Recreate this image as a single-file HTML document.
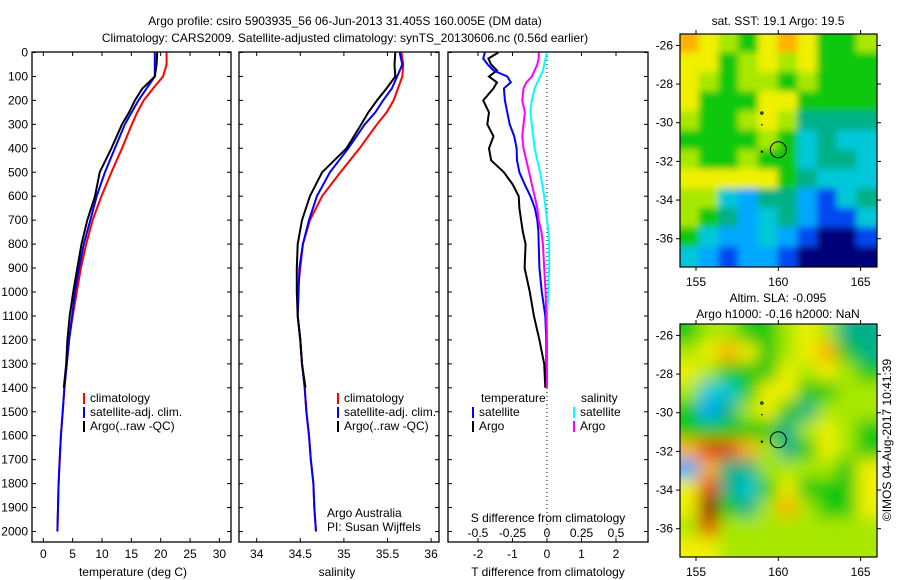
<!DOCTYPE html>
<html><head><meta charset="utf-8"><style>
body{margin:0;background:#fff;}
svg{display:block;font-family:"Liberation Sans",sans-serif;}
text{font-size:12px;fill:#000;}
</style></head><body>
<svg id="fig" width="900" height="580" viewBox="0 0 900 580">
<defs>
<clipPath id="c1"><rect x="680" y="34" width="197" height="233"/></clipPath>
<clipPath id="c2"><rect x="680" y="324" width="197" height="233"/></clipPath>
<filter id="b1" x="-20%" y="-20%" width="140%" height="140%"><feGaussianBlur stdDeviation="3.5"/></filter>
<filter id="b2" x="-20%" y="-20%" width="140%" height="140%"><feGaussianBlur stdDeviation="8"/></filter>
</defs>
<text x="345" y="25" text-anchor="middle">Argo profile: csiro 5903935_56 06-Jun-2013 31.405S 160.005E (DM data)</text>
<text x="345" y="42" text-anchor="middle">Climatology: CARS2009. Satellite-adjusted climatology: synTS_20130606.nc (0.56d earlier)</text>
<g id="g"></g>
</svg>
<script>
// ---- data ----
const depths=[0,50,100,150,200,250,300,400,500,600,700,800,900,1000,1100,1200,1300,1400,1500,1600,1700,1800,1900,2000];
const tempClim=[21.0,21.0,20.4,18.7,17.1,16.0,15.1,13.4,11.6,9.9,8.4,7.3,6.4,5.7,5.0,4.4,4.0,3.6,3.3,3.0,2.8,2.6,2.5,2.4];
const tempSat=[19.0,19.0,19.0,17.6,16.2,15.05,13.9,12.2,10.5,9.1,8.0,6.9,6.1,5.4,4.9,4.4,4.0,3.6,3.3,3.0,2.8,2.6,2.5,2.4];
const argoDepths=[0,50,100,150,200,250,300,400,500,600,700,800,900,1000,1100,1200,1300,1400];
const tempArgo=[19.4,19.3,19.0,16.9,15.6,14.6,13.4,11.6,9.6,8.8,7.5,6.5,5.8,5.1,4.5,4.1,3.9,3.5];
const salClim=[35.66,35.68,35.67,35.62,35.57,35.49,35.38,35.18,34.96,34.75,34.61,34.53,34.50,34.47,34.47,34.50,34.52,34.55,34.57,34.60,34.62,34.65,34.66,34.68];
const salSat=[35.64,35.67,35.61,35.55,35.45,35.36,35.24,35.05,34.84,34.69,34.60,34.53,34.49,34.48,34.47,34.50,34.52,34.55,34.57,34.60,34.62,34.65,34.66,34.68];
const salArgo=[35.59,35.58,35.59,35.49,35.38,35.28,35.20,35.03,34.75,34.61,34.52,34.47,34.46,34.46,34.47,34.50,34.52,34.56];
const diffDepths=[0,25,50,75,100,125,150,200,250,300,350,400,450,500,550,600,650,700,750,800,900,1000,1100,1200,1300,1400];
const tDiffSat=[-1.80,-1.85,-1.72,-1.55,-1.15,-1.05,-1.25,-1.22,-1.15,-1.08,-0.95,-0.88,-0.87,-0.80,-0.65,-0.48,-0.35,-0.28,-0.25,-0.24,-0.22,-0.15,-0.05,-0.02,-0.02,-0.03];
const tDiffArgo=[-1.41,-1.70,-1.62,-1.45,-1.68,-1.45,-1.55,-1.85,-1.68,-1.73,-1.55,-1.68,-1.62,-1.25,-1.0,-0.82,-0.80,-0.75,-0.70,-0.62,-0.65,-0.50,-0.38,-0.22,-0.08,-0.05];
const sDiffSat=[0.0,-0.01,-0.02,-0.03,-0.05,-0.07,-0.09,-0.11,-0.12,-0.11,-0.10,-0.09,-0.07,-0.05,-0.035,-0.02,-0.01,0.0,0.01,0.015,0.015,0.01,0.0,0.0,0.0,0.0];
const sDiffArgo=[-0.06,-0.06,-0.07,-0.09,-0.11,-0.15,-0.17,-0.18,-0.16,-0.17,-0.18,-0.17,-0.15,-0.13,-0.11,-0.09,-0.07,-0.06,-0.04,-0.03,-0.02,-0.01,-0.005,0,0,0];
const depthTicks=[0,100,200,300,400,500,600,700,800,900,1000,1100,1200,1300,1400,1500,1600,1700,1800,1900,2000];
const tempTicks=[0,5,10,15,20,25,30];
const salTicks=[34,34.5,35,35.5,36];
const tDiffTicks=[-2,-1,0,1,2];
const sDiffTicks=["-0.5","-0.25","0","0.25","0.5"];
const sstGrid=[
[8,7,6,5,7,8,7,5,5,6],[7,7,5,6,7,6,7,5,5,5],[7,6,5,6,6,5,6,5,5,5],[7,5,5,5,7,7,5,5,5,5],
[6,5,5,6,7,6,4,4,4,4],[5,5,5,5,6,5,3,4,3,3],[6,5,5,6,5,5,3,4,4,3],[7,7,7,7,7,5,4,3,3,3],
[6,6,3,2,4,4,2,1,3,4],[6,5,4,2,3,4,2,1,1,3],[5,3,2,2,3,2,1,0,0,1],[3,2,1,2,2,1,0,0,0,0]];
const slaGrid=[
[5,6,6,5,5,6,7,6,4,4],[6,7,8,7,5,6,7,8,5,4],[7,6,5,5,5,7,6,7,6,5],[6,3,3,5,7,7,5,5,6,6],
[5,2,4,6,7,5,4,6,6,6],[5,5,5,5,5,4,6,7,6,5],[8,9,9,8,6,4,5,7,6,5],[2,8,4,4,6,6,6,6,5,7],
[7,9,4,3,5,7,5,5,5,7],[7,10,5,4,6,8,6,5,5,7],[6,9,6,6,6,6,6,6,6,6],[7,7,6,6,6,6,6,6,6,6]];
const palette=["#00007a","#0048f0","#00a8ff","#00c8d8","#00b088","#10c810","#a8e800","#f0f000","#ffb000","#e04000","#800000"];
const lonTicks=[155,160,165];
const latTicks=[-26,-28,-30,-32,-34,-36];

// ---- drawing ----
const NS="http://www.w3.org/2000/svg";
const G=document.getElementById('g');
function mk(tag,attrs,parent){const e=document.createElementNS(NS,tag);for(const k in attrs)e.setAttribute(k,attrs[k]);(parent||G).appendChild(e);return e;}
const FT=52, FB=542;
const yD=d=>52.5+d*0.2395;
const xT=v=>43.3+v*5.87;
const xS=v=>256.7+(v-34)*87.2;
const xTd=v=>547+v*34.5;
const xSd=v=>547+v*138;

function frame(x0,x1,name){
  const r=mk('rect',{x:x0,y:FT,width:x1-x0,height:FB-FT,fill:'none',stroke:'#000','stroke-width':1.3});
  
  
  depthTicks.forEach(d=>{const y=yD(d);
    mk('line',{x1:x0,x2:x0+4,y1:y,y2:y,stroke:'#000'});
    mk('line',{x1:x1-4,x2:x1,y1:y,y2:y,stroke:'#000'});});
}
function line(xs,ds,sx,col,name){
  const pts=xs.map((v,i)=>sx(v).toFixed(1)+','+yD(ds[i]).toFixed(1)).join(' ');
  const p=mk('polyline',{points:pts,fill:'none',stroke:col,'stroke-width':2});
  
  
}
function txt(x,y,s,anchor,name){const t=mk('text',{x:x,y:y,'text-anchor':anchor||'start'});t.textContent=s;
  
  return t;}
function xtick(x){mk('line',{x1:x,x2:x,y1:FB,y2:FB-4,stroke:'#000'});mk('line',{x1:x,x2:x,y1:FT,y2:FT+4,stroke:'#000'});}

frame(32,231,'temperature-panel');
frame(239,439,'salinity-panel');
frame(448,648,'difference-panel');
depthTicks.forEach(d=>{txt(28,yD(d)+4,String(d),'end','depth-tick-label');});
tempTicks.forEach(v=>{const x=xT(v);xtick(x);txt(x,558,String(v),'middle','temp-tick-label');});
txt(133,576,'temperature (deg C)','middle','x-axis-title-temperature');
salTicks.forEach(v=>{const x=xS(v);xtick(x);txt(x,558,String(v),'middle','salinity-tick-label');});
txt(337,576,'salinity','middle','x-axis-title-salinity');
tDiffTicks.forEach(v=>{const x=xTd(v);xtick(x);txt(x,558,String(v),'middle','tdiff-tick-label');});
sDiffTicks.forEach(s=>{txt(xSd(parseFloat(s)),537,s,'middle','sdiff-tick-label');});
txt(548,522,'S difference from climatology','middle','s-diff-axis-title');
txt(548,576,'T difference from climatology','middle','t-diff-axis-title');
mk('line',{x1:547,x2:547,y1:FT,y2:FB,stroke:'#000','stroke-dasharray':'1,3'});

line(tempClim,depths,xT,'#ff0000','temp-climatology-line');
line(tempSat,depths,xT,'#0000ff','temp-satellite-line');
line(tempArgo,argoDepths,xT,'#000000','temp-argo-line');
line(salClim,depths,xS,'#ff0000','sal-climatology-line');
line(salSat,depths,xS,'#0000ff','sal-satellite-line');
line(salArgo,argoDepths,xS,'#000000','sal-argo-line');
line(tDiffArgo,diffDepths,xTd,'#000000','tdiff-argo-line');
line(tDiffSat,diffDepths,xTd,'#0000ff','tdiff-satellite-line');
line(sDiffSat,diffDepths,xSd,'#00ffff','sdiff-satellite-line');
line(sDiffArgo,diffDepths,xSd,'#ff00ff','sdiff-argo-line');

function legend(x,y,items,prefix){items.forEach((it,i)=>{const yy=y+i*14;
  mk('rect',{x:x,y:yy-9,width:2,height:11,fill:it[1]});txt(x+7,yy,it[0],'start',prefix+'-legend-entry');});}
legend(83,402,[['climatology','#ff0000'],['satellite-adj. clim.','#0000ff'],['Argo(..raw -QC)','#000000']],'temp');
legend(337,402,[['climatology','#ff0000'],['satellite-adj. clim.','#0000ff'],['Argo(..raw -QC)','#000000']],'sal');
txt(481,402,'temperature','start','diff-legend-temperature-header');
legend(472,416,[['satellite','#0000ff'],['Argo','#000000']],'tdiff');
txt(581,402,'salinity','start','diff-legend-salinity-header');
legend(573,416,[['satellite','#00ffff'],['Argo','#ff00ff']],'sdiff');
txt(327,517,'Argo Australia','start','credit-argo-australia');
txt(327,531,'PI: Susan Wijffels','start','credit-pi');

// maps
const xLon=v=>696+(v-155)*16.46;
function map(y0,grid,clip,filt,name){
  const yLat=v=>y0+11.4+(-26-v)*19.33;
  const g=mk('g',{'clip-path':'url(#'+clip+')'});
  
  
  const inner=mk('g',{filter:'url(#'+filt+')'},g);
  const cw=197/grid[0].length, ch=233/grid.length;
  grid.forEach((row,r)=>row.forEach((v,c)=>{
    const x=680+c*cw-(c===0?12:1), y=y0+r*ch-(r===0?12:1);
    const w=cw+2+(c===0?11:0)+(c===row.length-1?11:0), h=ch+2+(r===0?11:0)+(r===grid.length-1?11:0);
    const cell=mk('rect',{x:x,y:y,width:w,height:h,fill:palette[v]},inner);
    
    
  }));
  mk('circle',{cx:xLon(160),cy:yLat(-31.4),r:8,fill:'none',stroke:'#000','stroke-width':1},g);
  mk('circle',{cx:xLon(159),cy:yLat(-31.5),r:1.2,fill:'#000'},g);
  mk('circle',{cx:xLon(159),cy:yLat(-29.5),r:1.2,fill:'none',stroke:'#000'},g);
  mk('circle',{cx:xLon(159),cy:yLat(-30.1),r:0.8,fill:'#000'},g);
  mk('rect',{x:680,y:y0,width:197,height:233,fill:'none',stroke:'#000','stroke-width':1.2});
  lonTicks.forEach(v=>{const x=xLon(v);mk('line',{x1:x,x2:x,y1:y0,y2:y0-4,stroke:'#000'});mk('line',{x1:x,x2:x,y1:y0+233,y2:y0+237,stroke:'#000'});txt(x,y0+252,String(v),'middle','lon-tick-label');});
  latTicks.forEach(v=>{const y=yLat(v);mk('line',{x1:680,x2:676,y1:y,y2:y,stroke:'#000'});mk('line',{x1:877,x2:881,y1:y,y2:y,stroke:'#000'});txt(673,y+4,String(v),'end','lat-tick-label');});
}
map(34,sstGrid,'c1','b1','sst-map');
map(324,slaGrid,'c2','b2','sla-map');
txt(778,25,'sat. SST: 19.1  Argo: 19.5','middle','sst-map-title');
txt(778,302,'Altim. SLA: -0.095','middle','sla-map-title');
txt(778,318,'Argo h1000: -0.16  h2000: NaN','middle','sla-map-subtitle');
const cp=txt(0,0,'©IMOS 04-Aug-2017 10:41:39','middle','copyright-timestamp');
cp.setAttribute('transform','translate(891,440) rotate(-90)');
</script>
</body></html>
